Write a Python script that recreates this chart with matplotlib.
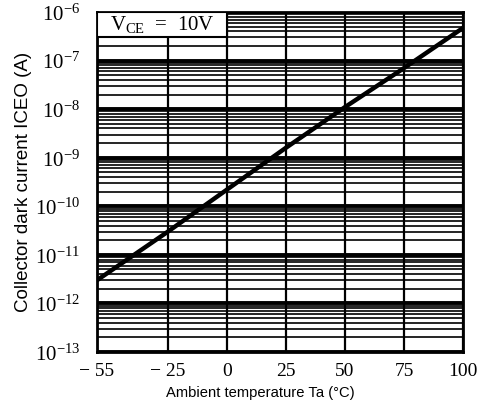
import numpy as np
import matplotlib
matplotlib.use("Agg")
import matplotlib.pyplot as plt
from matplotlib.ticker import LogLocator, FixedLocator, NullFormatter
from matplotlib.patches import Rectangle

plt.rcParams["mathtext.fontset"] = "custom"
plt.rcParams["mathtext.rm"] = "Liberation Serif"
plt.rcParams["mathtext.it"] = "Liberation Serif:italic"
plt.rcParams["mathtext.bf"] = "Liberation Serif:bold"
plt.rcParams["mathtext.sf"] = "Liberation Sans"

# data
temp_c = [-55, -25, 0, 25, 50, 75, 100]
iceo_a = [3.0e-12, 3.0e-11, 2.2e-10, 1.6e-9, 1.1e-8, 7.0e-8, 4.7e-7]

x_ticks = [-55, -25, 0, 25, 50, 75, 100]
x_tick_labels = ["\u2212 55", "\u2212 25", "0", "25", "50", "75", "100"]
y_decades = [1e-13, 1e-12, 1e-11, 1e-10, 1e-9, 1e-8, 1e-7, 1e-6]
y_tick_labels = [r"$10^{-13}$", r"$10^{-12}$", r"$10^{-11}$", r"$10^{-10}$",
                 r"$10^{-9}$", r"$10^{-8}$", r"$10^{-7}$", r"$10^{-6}$"]

fig = plt.figure(figsize=(4.83, 4.11), dpi=100)
ax = fig.add_axes([97 / 483, 1 - 352 / 411, 366 / 483, 340 / 411])

ax.set_yscale("log")
ax.set_xlim(-55, 100)
ax.set_ylim(1e-13, 1e-6)

# grid: thick decade lines, thinner minor lines, vertical lines at the ticks
ax.yaxis.set_major_locator(FixedLocator(y_decades))
ax.yaxis.set_minor_locator(LogLocator(base=10, subs=np.arange(2, 10)))
ax.yaxis.set_minor_formatter(NullFormatter())
ax.grid(True, which="major", axis="y", color="black", lw=2.8)
ax.grid(True, which="minor", axis="y", color="black", lw=1.2)
ax.set_xticks(x_ticks)
ax.grid(True, which="major", axis="x", color="black", lw=1.6)

ax.plot(temp_c, iceo_a, color="black", lw=3.2, solid_capstyle="butt", zorder=3)

ax.set_xticklabels(x_tick_labels, family="Liberation Serif", fontsize=14)
ax.set_yticklabels(y_tick_labels, fontsize=15)
ax.tick_params(which="both", length=0)
ax.tick_params(axis="x", pad=8)
ax.tick_params(axis="y", pad=12)

for sp in ax.spines.values():
    sp.set_linewidth(2)

ax.set_xlabel("Ambient temperature Ta (\u00b0C)", family="Liberation Sans",
              fontsize=10.6)
ax.xaxis.set_label_coords(0.445, -0.1)
ax.set_ylabel("Collector dark current ICEO (A)",
              family="Liberation Sans", fontsize=13.5, labelpad=2)

# condition box in the upper-left corner
ax.add_patch(Rectangle((0, 0.926), 0.355, 0.074, transform=ax.transAxes,
                       facecolor="white", edgecolor="black", lw=1.5, zorder=4))
ax.text(0.18, 0.962, r"V$_{\mathrm{CE}}$  =  10V", transform=ax.transAxes,
        ha="center", va="center", fontsize=15, family="Liberation Serif",
        zorder=5)

fig.savefig("out.png", dpi=100)
